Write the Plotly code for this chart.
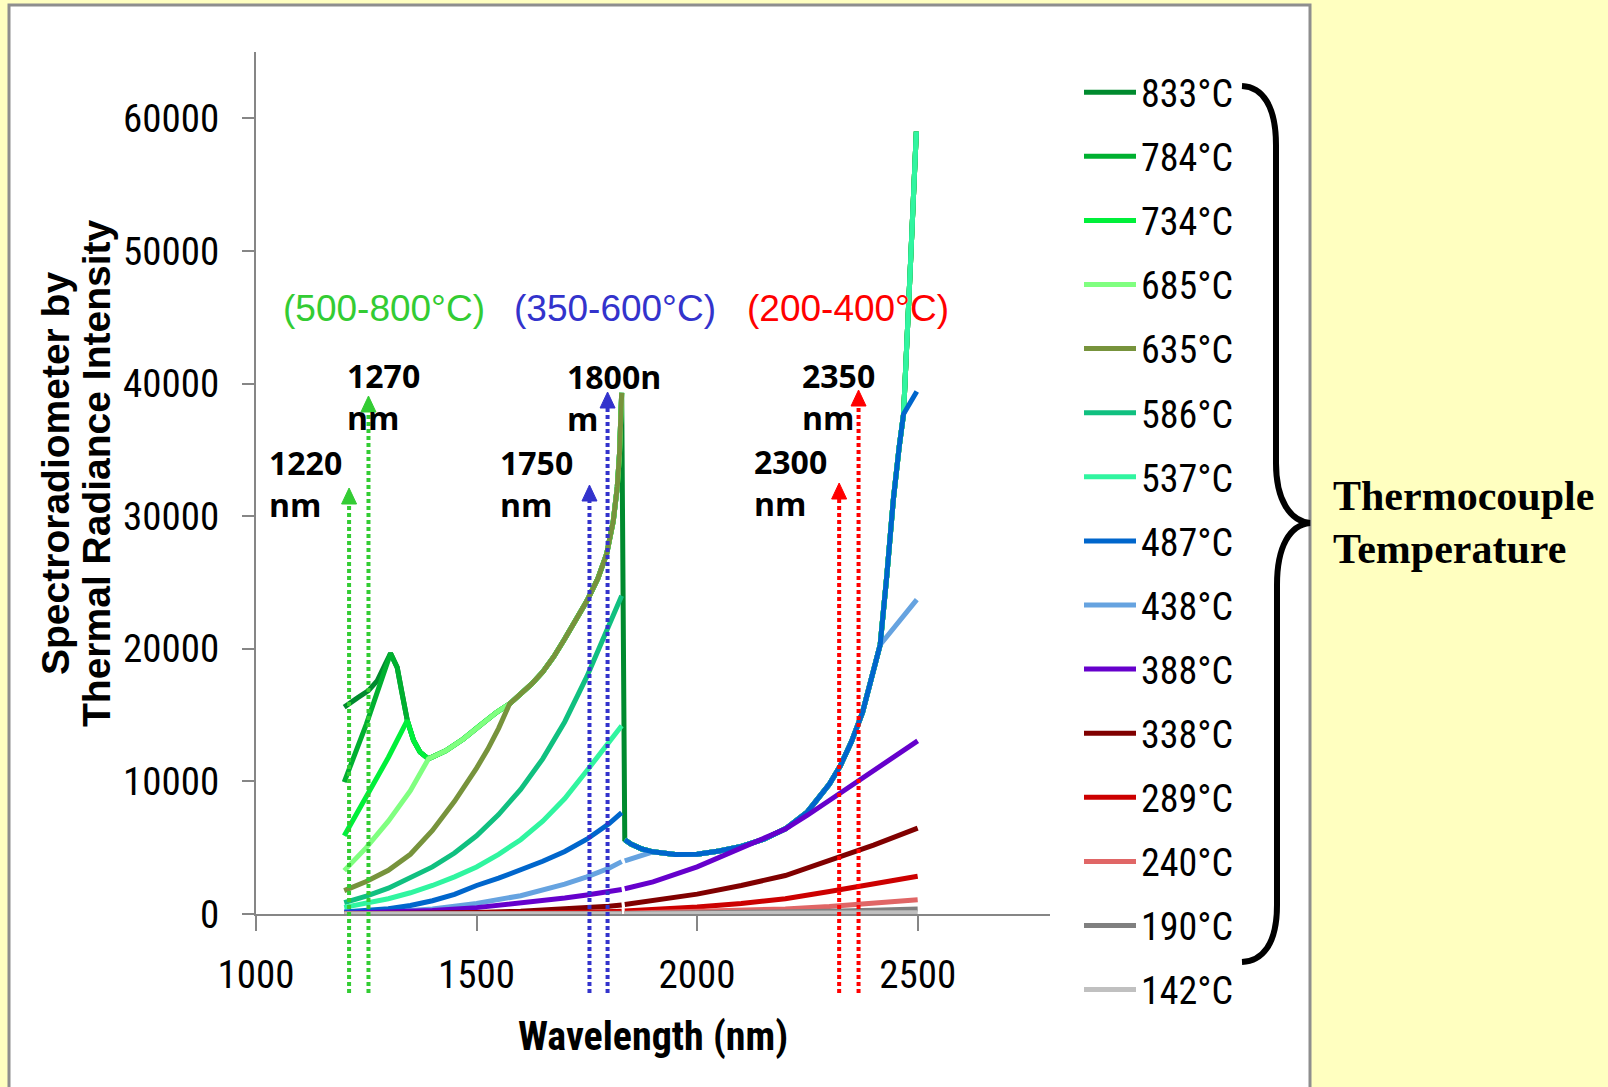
import plotly.graph_objects as go

# ---------------- canvas / layout geometry (page pixels) ----------------
FIG_W, FIG_H = 1608, 1087
PLOT_L, PLOT_R, PLOT_T, PLOT_B = 256, 1050, 52, 914

X_RANGE = [1000, 2800]
Y_RANGE = [0, 65000]
X_TICKS = [1000, 1500, 2000, 2500]
Y_TICKS = [0, 10000, 20000, 30000, 40000, 50000, 60000]

# ---------------- series (legend order) ----------------
TEMPS = ["833°C", "784°C", "734°C", "685°C", "635°C", "586°C", "537°C",
         "487°C", "438°C", "388°C", "338°C", "289°C", "240°C", "190°C", "142°C"]
COLORS = ["#008A2E", "#00B030", "#00F03A", "#80FF80", "#77933C", "#10C080", "#30F5A0",
          "#0066CC", "#66A3E0", "#6600CC", "#800000", "#CC0000", "#E06666", "#808080", "#C0C0C0"]

# Saturated path shared by the hottest series (detector 1, up to 1829 nm)
ENV1_WL = [1305, 1320, 1330, 1343, 1357, 1372, 1391, 1430, 1470, 1510, 1545, 1575,
           1600, 1625, 1650, 1675, 1700, 1725, 1750, 1775, 1795, 1810, 1819, 1824, 1829]
ENV1_VAL = [19650, 18600, 16800, 14600, 13100, 12200, 11700, 12300, 13200, 14300, 15200, 15850,
            16600, 17350, 18250, 19400, 20750, 22250, 23600, 25300, 27150, 29650, 32200, 34700, 39300]

# Shared path on detector 2 (from 1836 nm)
ENV2_WL = [1836, 1850, 1875, 1900, 1950, 2000, 2050, 2100, 2150, 2200, 2250, 2300,
           2325, 2350, 2375, 2400, 2415, 2430, 2445, 2458, 2468]
ENV2_VAL = [5600, 5270, 4900, 4690, 4480, 4510, 4750, 5100, 5620, 6420, 7700, 9800,
            11200, 13000, 15200, 18400, 20300, 25500, 31300, 35200, 37700]
HOT_TAIL_WL = [2483, 2497]
HOT_TAIL_VAL = [48500, 59000]

# Own (unsaturated) parts of each series
S833_WL = [1200, 1210, 1230, 1255, 1275, 1293]
S833_VAL = [15600, 15800, 16300, 16850, 17600, 18850]
S784_WL = [1200, 1250]
S784_VAL = [9950, 14300]
S734_WL = [1200, 1250, 1300]
S734_VAL = [5900, 8800, 11800]
S685_WL = [1200, 1250, 1300, 1350]
S685_VAL = [3270, 5000, 7000, 9300]
S635_WL = [1200, 1250, 1300, 1350, 1400, 1450, 1500, 1525, 1550]
S635_VAL = [1760, 2450, 3300, 4500, 6300, 8500, 11000, 12400, 14000]

WL_D1 = [1200, 1250, 1300, 1350, 1400, 1450, 1500, 1550, 1600, 1650, 1700, 1750, 1800, 1829]
S586_VAL = [850, 1350, 1950, 2700, 3550, 4600, 5900, 7500, 9400, 11700, 14500, 17900, 21700, 24000]
S537_VAL = [500, 800, 1150, 1600, 2150, 2800, 3550, 4500, 5600, 7000, 8700, 10800, 12900, 14200]
S487_VAL = [150, 260, 400, 640, 1000, 1480, 2150, 2700, 3330, 3980, 4720, 5640, 6800, 7650]
S487_END_WL = [2498]
S487_END_VAL = [39400]

S438_WL1 = [1200, 1300, 1400, 1500, 1600, 1700, 1750, 1800, 1829]
S438_VAL1 = [60, 160, 380, 800, 1380, 2250, 2800, 3450, 3950]
S438_WL2 = [1836, 1856, 1875]
S438_VAL2 = [4000, 4200, 4450]
S438_END_WL = [2498]
S438_END_VAL = [23700]

WL_LOW1 = [1200, 1300, 1400, 1500, 1600, 1700, 1750, 1800, 1829]
S388_VAL1 = [50, 120, 260, 480, 800, 1200, 1430, 1680, 1850]
WL_388_2 = [1836, 1900, 2000, 2050, 2100, 2150, 2200, 2250, 2300, 2350, 2400, 2450, 2500]
S388_VAL2 = [1900, 2420, 3560, 4250, 4980, 5650, 6400, 7450, 8550, 9700, 10850, 11950, 13050]

WL_LOW2 = [1836, 1900, 2000, 2100, 2200, 2300, 2400, 2500]
S338_VAL1 = [10, 25, 60, 120, 210, 350, 450, 580, 680]
S338_VAL2 = [720, 1000, 1500, 2150, 2900, 4050, 5200, 6480]
S289_VAL1 = [0, 5, 15, 30, 60, 110, 140, 180, 210]
S289_VAL2 = [230, 330, 530, 800, 1150, 1700, 2250, 2850]
S240_VAL1 = [0, 0, 3, 8, 15, 28, 35, 45, 50]
S240_VAL2 = [60, 100, 170, 260, 380, 560, 790, 1080]
S190_VAL1 = [0, 0, 0, 2, 4, 8, 10, 13, 15]
S190_VAL2 = [20, 35, 60, 95, 140, 200, 280, 380]
S142_VAL1 = [0, 0, 0, 0, 1, 2, 3, 4, 5]
S142_VAL2 = [8, 12, 20, 30, 40, 55, 70, 100]

# Marker lines (positions) and their labels
MARKER_WL = [1211, 1255, 1756, 1797, 2322, 2366]
MARKER_TEXT = ["1220<br>nm", "1270<br>nm", "1750<br>nm", "1800n<br>m", "2300<br>nm", "2350<br>nm"]
MARKER_COLOR = ["#33CC33", "#33CC33", "#3333CC", "#3333CC", "#FF0000", "#FF0000"]
MARKER_TIP_PX = [488, 396, 485, 392, 483, 390]
MARKER_LABEL_PX = [(267, 483), (345, 396), (498, 483), (565, 397), (752, 482), (800, 396)]

RANGE_TEXT = ["(500-800°C)", "(350-600°C)", "(200-400°C)"]
RANGE_COLOR = ["#33CC33", "#3333CC", "#FF0000"]
RANGE_PX = [(384, 308), (615, 308), (848, 308)]

COND = "Roboto Condensed, Roboto, sans-serif"
OPEN = "Open Sans, sans-serif"
SANS = "Liberation Sans, Arial, sans-serif"
SERIF = "Liberation Serif, Times New Roman, serif"


def px_x(p):
    return (p - PLOT_L) / (PLOT_R - PLOT_L)


def px_y(p):
    return (PLOT_B - p) / (PLOT_B - PLOT_T)


def wl_paper(w):
    return (w - X_RANGE[0]) / (X_RANGE[1] - X_RANGE[0])


def env_from(wls, vals, start, stop=None):
    xs, ys = [], []
    for w, v in zip(wls, vals):
        if w >= start and (stop is None or w <= stop):
            xs.append(w)
            ys.append(v)
    return xs, ys


GAP = [None]
e1 = {k: env_from(ENV1_WL, ENV1_VAL, k) for k in (1305, 1343, 1391, 1575)}

series = {}
series["833°C"] = (S833_WL + e1[1305][0] + ENV2_WL + HOT_TAIL_WL,
                   S833_VAL + e1[1305][1] + ENV2_VAL + HOT_TAIL_VAL)
series["784°C"] = (S784_WL + e1[1305][0] + GAP + ENV2_WL + HOT_TAIL_WL,
                   S784_VAL + e1[1305][1] + GAP + ENV2_VAL + HOT_TAIL_VAL)
series["734°C"] = (S734_WL + e1[1343][0] + GAP + ENV2_WL + HOT_TAIL_WL,
                   S734_VAL + e1[1343][1] + GAP + ENV2_VAL + HOT_TAIL_VAL)
series["685°C"] = (S685_WL + e1[1391][0] + GAP + ENV2_WL + HOT_TAIL_WL,
                   S685_VAL + e1[1391][1] + GAP + ENV2_VAL + HOT_TAIL_VAL)
series["635°C"] = (S635_WL + e1[1575][0] + GAP + ENV2_WL + HOT_TAIL_WL,
                   S635_VAL + e1[1575][1] + GAP + ENV2_VAL + HOT_TAIL_VAL)
series["586°C"] = (WL_D1 + GAP + ENV2_WL + HOT_TAIL_WL, S586_VAL + GAP + ENV2_VAL + HOT_TAIL_VAL)
series["537°C"] = (WL_D1 + GAP + ENV2_WL + HOT_TAIL_WL, S537_VAL + GAP + ENV2_VAL + HOT_TAIL_VAL)
series["487°C"] = (WL_D1 + GAP + ENV2_WL + S487_END_WL, S487_VAL + GAP + ENV2_VAL + S487_END_VAL)
e438 = env_from(ENV2_WL, ENV2_VAL, 1900, 2415)
series["438°C"] = (S438_WL1 + GAP + S438_WL2 + e438[0] + S438_END_WL,
                   S438_VAL1 + GAP + S438_VAL2 + e438[1] + S438_END_VAL)
series["388°C"] = (WL_LOW1 + GAP + WL_388_2, S388_VAL1 + GAP + S388_VAL2)
series["338°C"] = (WL_LOW1 + GAP + WL_LOW2, S338_VAL1 + GAP + S338_VAL2)
series["289°C"] = (WL_LOW1 + GAP + WL_LOW2, S289_VAL1 + GAP + S289_VAL2)
series["240°C"] = (WL_LOW1 + GAP + WL_LOW2, S240_VAL1 + GAP + S240_VAL2)
series["190°C"] = (WL_LOW1 + GAP + WL_LOW2, S190_VAL1 + GAP + S190_VAL2)
series["142°C"] = (WL_LOW1 + GAP + WL_LOW2, S142_VAL1 + GAP + S142_VAL2)

DRAW_ORDER = ["833°C", "784°C", "734°C", "685°C", "635°C", "586°C", "537°C",
              "438°C", "487°C", "388°C", "338°C", "289°C", "240°C", "190°C", "142°C"]

fig = go.Figure()
for name in DRAW_ORDER:
    i = TEMPS.index(name)
    xs, ys = series[name]
    fig.add_trace(go.Scatter(
        x=xs, y=ys, mode="lines", name=name,
        line=dict(color=COLORS[i], width=5),
        legendrank=i + 1, legendgroup=name, connectgaps=False,
    ))

shapes = []
# white panel on yellow background
shapes.append(dict(type="rect", xref="paper", yref="paper", layer="below",
                   x0=px_x(9), x1=px_x(1310), y0=px_y(1100), y1=px_y(5),
                   fillcolor="white", line=dict(color="#8E8E8E", width=3)))

# dotted marker lines with arrow heads
for w, c, tip in zip(MARKER_WL, MARKER_COLOR, MARKER_TIP_PX):
    xp = wl_paper(w)
    shapes.append(dict(type="line", xref="paper", yref="paper",
                       x0=xp, x1=xp, y0=px_y(993), y1=px_y(tip + 14),
                       line=dict(color=c, width=4, dash="4px,3px")))
    hw = 7.5 / (PLOT_R - PLOT_L)
    path = "M {a},{b} L {c},{b} L {d},{e} Z".format(
        a=xp - hw, b=px_y(tip + 16), c=xp + hw, d=xp, e=px_y(tip))
    shapes.append(dict(type="path", xref="paper", yref="paper", path=path,
                       fillcolor=c, line=dict(color=c, width=1)))

# curly brace
BRACE = [("M", [(1242, 86)]),
         ("C", [(1262, 87), (1276, 105), (1276, 145)]),
         ("L", [(1276, 463)]),
         ("C", [(1276, 500), (1290, 521), (1310, 523)]),
         ("C", [(1290, 525), (1277, 546), (1277, 585)]),
         ("L", [(1277, 905)]),
         ("C", [(1277, 945), (1262, 961), (1242, 962)])]
bpath = " ".join(cmd + " " + " ".join("{:.5f},{:.5f}".format(px_x(a), px_y(b)) for a, b in pts)
                 for cmd, pts in BRACE)
shapes.append(dict(type="path", xref="paper", yref="paper", path=bpath,
                   line=dict(color="black", width=6)))

annotations = []
for txt, (lx, ly) in zip(MARKER_TEXT, MARKER_LABEL_PX):
    annotations.append(dict(text="<b>" + txt + "</b>", xref="paper", yref="paper",
                            x=px_x(lx), y=px_y(ly), xanchor="left", yanchor="middle",
                            align="left", showarrow=False,
                            font=dict(family=OPEN, size=32, color="black")))
for txt, c, (cx, cy) in zip(RANGE_TEXT, RANGE_COLOR, RANGE_PX):
    annotations.append(dict(text=txt, xref="paper", yref="paper", x=px_x(cx), y=px_y(cy),
                            xanchor="center", yanchor="middle", showarrow=False,
                            font=dict(family=SANS, size=37, color=c)))
# axis titles
annotations.append(dict(text="<b>Wavelength (nm)</b>", xref="paper", yref="paper",
                        x=px_x(653), y=px_y(1036), xanchor="center", yanchor="middle",
                        showarrow=False, font=dict(family=COND, size=40, color="black")))
for txt, xp in (("Spectroradiometer by", 56), ("Thermal Radiance Intensity", 97)):
    annotations.append(dict(text="<b>" + txt + "</b>", xref="paper", yref="paper",
                            x=px_x(xp), y=px_y(474), xanchor="center", yanchor="middle",
                            textangle=-90, showarrow=False,
                            font=dict(family=SANS, size=39, color="black")))
for txt, yp in (("Thermocouple", 496), ("Temperature", 549)):
    annotations.append(dict(text="<b>" + txt + "</b>", xref="paper", yref="paper",
                            x=px_x(1331), y=px_y(yp), xanchor="left", yanchor="middle",
                            showarrow=False, font=dict(family=SERIF, size=42, color="black")))

fig.update_layout(
    width=FIG_W, height=FIG_H,
    margin=dict(l=PLOT_L, r=FIG_W - PLOT_R, t=PLOT_T, b=FIG_H - PLOT_B, autoexpand=False),
    paper_bgcolor="#FFFFC0", plot_bgcolor="rgba(0,0,0,0)",
    shapes=shapes, annotations=annotations,
    showlegend=True,
    legend=dict(x=px_x(1079), y=px_y(61), xanchor="left", yanchor="top",
                traceorder="grouped", tracegroupgap=11.7, bgcolor="rgba(0,0,0,0)",
                itemwidth=52, maxheight=1000,
                font=dict(family=COND, size=38, color="black")),
    xaxis=dict(range=X_RANGE, tickvals=X_TICKS, ticktext=[str(v) for v in X_TICKS],
               showgrid=False, zeroline=False,
               showline=True, linecolor="#868686", linewidth=2,
               ticks="outside", ticklen=15, tickwidth=2, tickcolor="#868686",
               ticklabelstandoff=10,
               tickfont=dict(family=COND, size=39, color="black")),
    yaxis=dict(range=Y_RANGE, tickvals=Y_TICKS, ticktext=[str(v) for v in Y_TICKS],
               showgrid=False, zeroline=False,
               showline=True, linecolor="#868686", linewidth=2,
               ticks="outside", ticklen=12, tickwidth=2, tickcolor="#868686",
               ticklabelstandoff=15,
               tickfont=dict(family=COND, size=39, color="black")),
)

fig.write_html("out.html", config={"displayModeBar": False},
               post_script="document.body.style.margin='0';document.body.style.background='#FFFFC0';")
